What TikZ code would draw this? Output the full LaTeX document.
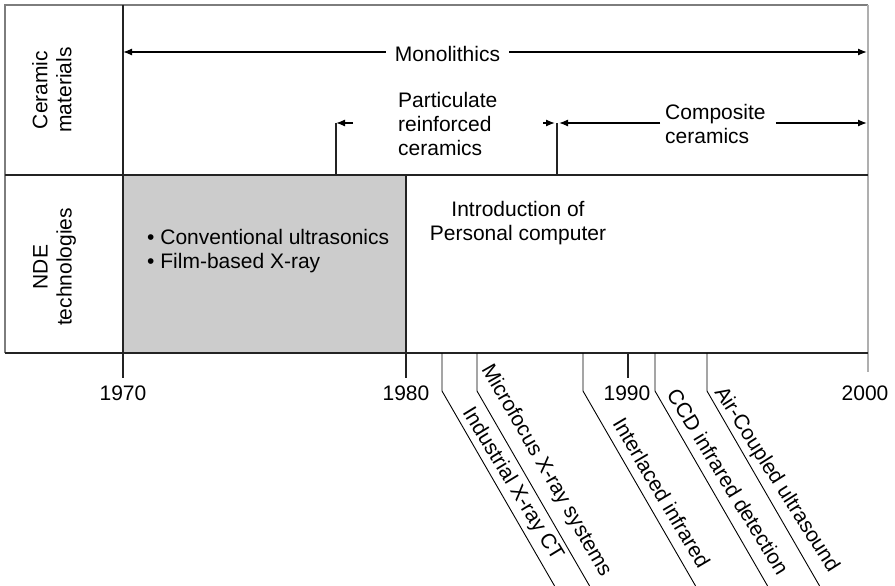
\documentclass[tikz,border=0pt]{standalone}
\usepackage{fontspec}
\setmainfont{Liberation Sans}
\usetikzlibrary{arrows.meta,calc}
\definecolor{boxgray}{RGB}{204,204,204}
\definecolor{framegray}{RGB}{125,125,125}
\definecolor{faintgray}{RGB}{175,175,175}
\definecolor{ink}{RGB}{35,35,35}
\begin{document}
\begin{tikzpicture}[x=1pt,y=-1pt,
  every node/.style={font=\fontsize{21}{24}\selectfont, inner sep=0pt, text=black},
  frame/.style={draw=framegray, line width=1.2pt},
  faint/.style={draw=faintgray, line width=1.2pt},
  rule/.style={draw=ink, line width=1.3pt},
  span/.style={draw=black, line width=1.3pt},
  tip/.style={-{Latex[length=9pt,width=7pt]}},
  lead/.style={draw=black, line width=0.9pt},
  lbl/.style={anchor=base west},
  year/.style={anchor=base},
]
\useasboundingbox (0,0) rectangle (895,586);

% shaded block for the 1970s
\fill[boxgray] (123,175) rectangle (406,353);

% outer frame and grid
\draw[frame] (5,353) -- (5,5) -- (868,5);
\draw[faint] (868,5) -- (868,372);
\draw[rule] (5,175) -- (868,175);
\draw[rule] (5,353) -- (868,353);
\draw[rule] (123,5) -- (123,378);
\draw[rule] (406,175) -- (406,378);
\draw[rule] (628,353) -- (628,378);

% row headings
\node[rotate=90, anchor=north, align=center] (rowA) at (32,90) {Ceramic\\materials};
\node[rotate=90, anchor=north, align=center] (rowB) at (33,267) {NDE\\technologies};

% years
\node[year] (y1970) at (123,400) {1970};
\node[year] (y1980) at (406,400) {1980};
\node[year] (y1990) at (627,400) {1990};
\node[year] (y2000) at (865,400) {2000};

% monolithics span
\coordinate (monoL) at (123,52);
\coordinate (monoR) at (867,52);
\node[anchor=base, inner xsep=9pt] (mono) at (447.5,62) {Monolithics};
\draw[span,tip] (mono.west |- monoL) -- (monoL);
\draw[span,tip] (mono.east |- monoR) -- (monoR);

% particulate reinforced ceramics
\node[anchor=north west, align=left] (part) at (398,91.8) {Particulate\\reinforced\\ceramics};
\coordinate (pL) at (336,123);
\coordinate (pLs) at (353,123);
\coordinate (pLb) at (336,175);
\coordinate (pR) at (555,123);
\coordinate (pRs) at (543,123);
\draw[span,tip] (pLs) -- (pL);
\draw[span,tip] (pRs) -- (pR);
\draw[rule] (pL) -- (pLb);

% composite ceramics
\node[anchor=north west, align=left] (comp) at (665,103.7) {Composite\\ceramics};
\coordinate (cV) at (557,123);
\coordinate (cVb) at (557,175);
\coordinate (cL) at (559,123);
\coordinate (cR) at (867,123);
\draw[rule] (cV) -- (cVb);
\draw[span,tip] ([xshift=-5pt]comp.west |- cL) -- (cL);
\draw[span,tip] ([xshift=10pt]comp.east |- cR) -- (cR);

% NDE row texts
\node[anchor=north west, align=left] (early) at (147,228.8)
  {\textbullet\ Conventional ultrasonics\\\textbullet\ Film-based X-ray};
\node[anchor=north, align=center] (pc) at (518,200.8) {Introduction of\\Personal computer};

% NDE milestones after 1980: tick, bent leader and slanted caption
\foreach \k/\x/\bx/\by/\ang/\t in {
  ind/442/462/412.4/58.6/{Industrial X-ray CT},
  mic/477/481/369.2/60/{Microfocus X-ray systems},
  itl/583/612/423.7/59.3/{Interlaced infrared},
  ccd/655/666/394.3/58.6/{CCD infrared detection},
  air/707/714/392/57.6/{Air-Coupled ultrasound}} {
  \coordinate (\k-top) at (\x,353);
  \coordinate (\k-bend) at (\x,391);
  \coordinate (\k-end) at ($(\k-bend)+(112.6,195)$);
  \draw[lead] (\k-top) -- (\k-bend) -- (\k-end);
  \node[lbl, rotate=-\ang] (\k-txt) at (\bx,\by) {\t};
}
\end{tikzpicture}
\end{document}
